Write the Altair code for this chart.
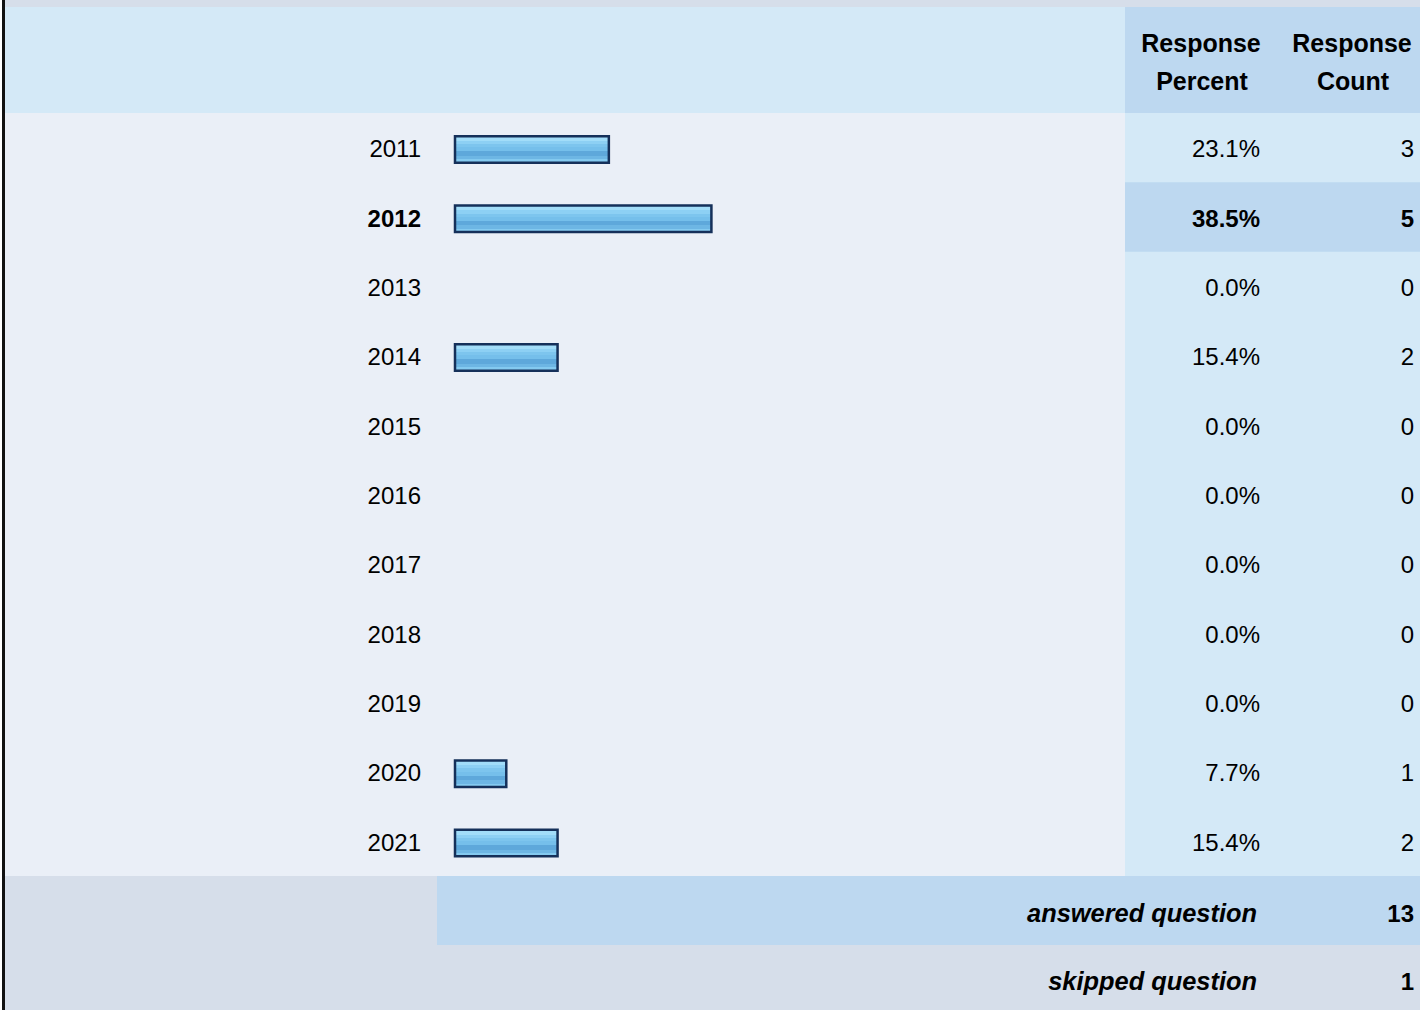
import altair as alt
import pandas as pd

# ---- data ----
years = ["2011", "2012", "2013", "2014", "2015", "2016", "2017", "2018", "2019", "2020", "2021"]
percents = [23.1, 38.5, 0.0, 15.4, 0.0, 0.0, 0.0, 0.0, 0.0, 7.7, 15.4]
counts = [3, 5, 0, 2, 0, 0, 0, 0, 0, 1, 2]
header_percent = ["Response", "Percent"]
header_count = ["Response", "Count"]
footer_labels = ["answered question", "skipped question"]
footer_values = [13, 1]

df = pd.DataFrame({"year": years, "pct": percents, "count": counts})
max_count = max(counts)
df["top"] = df["count"] == max_count
df["pct_label"] = [f"{p:.1f}%" for p in percents]
df["count_label"] = [str(c) for c in counts]

one = pd.DataFrame({"k": [0]})

FONT = "Liberation Sans"
GRAY = "#D6DEEA"
LIGHT = "#D4E9F7"
MID = "#BDD8F0"
ROWBG = "#EAEFF7"

ROW_TOP, ROW_BOT = 113, 876

yscale = alt.Scale(domain=years, range=[ROW_TOP, ROW_BOT], paddingInner=0, paddingOuter=0)
Y = alt.Y("year:O", scale=yscale, axis=None)


def rect(x1, x2, y1, y2, color):
    return alt.Chart(one).mark_rect(color=color, strokeWidth=0).encode(
        x=alt.value(x1), x2=alt.value(x2), y=alt.value(y1), y2=alt.value(y2)
    )


backgrounds = [
    rect(2, 1420, 0, 1010, GRAY),
    rect(0, 2, 0, 1010, "#FFFFFF"),
    rect(5, 1125, 7, ROW_TOP, LIGHT),
    rect(1125, 1420, 7, ROW_TOP, MID),
    rect(5, 1125, ROW_TOP, ROW_BOT, ROWBG),
    rect(1125, 1420, ROW_TOP, ROW_BOT, LIGHT),
    rect(437, 1420, 876, 945, MID),
    rect(2, 5, 0, 1010, "#111111"),
]

base = alt.Chart(df)

highlight = base.transform_filter("datum.top").mark_rect(color=MID, strokeWidth=0).encode(
    y=Y, x=alt.value(1125), x2=alt.value(1420)
)

grad = alt.LinearGradient(
    gradient="linear",
    x1=0, x2=0, y1=0, y2=1,
    stops=[
        alt.GradientStop(offset=0.0, color="#A2DDF9"),
        alt.GradientStop(offset=0.18, color="#A2DDF9"),
        alt.GradientStop(offset=0.18, color="#8DD0F4"),
        alt.GradientStop(offset=0.30, color="#8DD0F4"),
        alt.GradientStop(offset=0.30, color="#7DC5EE"),
        alt.GradientStop(offset=0.42, color="#7DC5EE"),
        alt.GradientStop(offset=0.42, color="#75BFEB"),
        alt.GradientStop(offset=0.57, color="#75BFEB"),
        alt.GradientStop(offset=0.57, color="#5EA8DB"),
        alt.GradientStop(offset=0.75, color="#5EA8DB"),
        alt.GradientStop(offset=0.75, color="#6DB6E4"),
        alt.GradientStop(offset=0.87, color="#6DB6E4"),
        alt.GradientStop(offset=0.87, color="#84CAF0"),
        alt.GradientStop(offset=1.0, color="#84CAF0"),
    ],
)

bars = base.transform_filter("datum.pct > 0").mark_bar(
    fill=grad, stroke="#15305A", strokeWidth=2.5, size=26.5, yOffset=1.8, cornerRadius=0
).encode(
    y=Y,
    x=alt.X("pct:Q", scale=alt.Scale(domain=[0, 100], range=[455, 1121]), axis=None),
)


def row_text(filt, field, xpos, weight, size):
    return base.transform_filter(filt).mark_text(
        align="right", baseline="alphabetic", dy=9.5, font=FONT, fontSize=size,
        fontWeight=weight, color="#000000"
    ).encode(y=Y, x=alt.value(xpos), text=f"{field}:N")


texts = []
for filt, weight, size in [("!datum.top", "normal", 24), ("datum.top", "bold", 24)]:
    texts.append(row_text(filt, "year", 421, weight, size))
    texts.append(row_text(filt, "pct_label", 1260, weight, size))
    texts.append(row_text(filt, "count_label", 1414, weight, size))


def fixed_text(txt, xpos, ypos, align, weight="bold", style="normal", size=25):
    return alt.Chart(one).mark_text(
        align=align, baseline="alphabetic", font=FONT, fontSize=size,
        fontWeight=weight, fontStyle=style, color="#000000"
    ).encode(x=alt.value(xpos), y=alt.value(ypos), text=alt.value(txt))


headers = [
    fixed_text(header_percent[0], 1201, 52, "center"),
    fixed_text(header_percent[1], 1202, 90, "center"),
    fixed_text(header_count[0], 1352, 52, "center"),
    fixed_text(header_count[1], 1353, 90, "center"),
]

footer = [
    fixed_text(footer_labels[0], 1257, 922, "right", style="italic", size=25.4),
    fixed_text(str(footer_values[0]), 1414, 922, "right", size=24),
    fixed_text(footer_labels[1], 1257, 990, "right", style="italic", size=25.4),
    fixed_text(str(footer_values[1]), 1414, 990, "right", size=24),
]

chart = alt.layer(*backgrounds, highlight, bars, *texts, *headers, *footer).properties(
    width=1420, height=1010, padding=0, autosize=alt.AutoSizeParams(type="none"),
    background="#FFFFFF",
).configure_view(stroke=None)

chart.save("out.html", embed_options={"renderer": "svg", "actions": False})
